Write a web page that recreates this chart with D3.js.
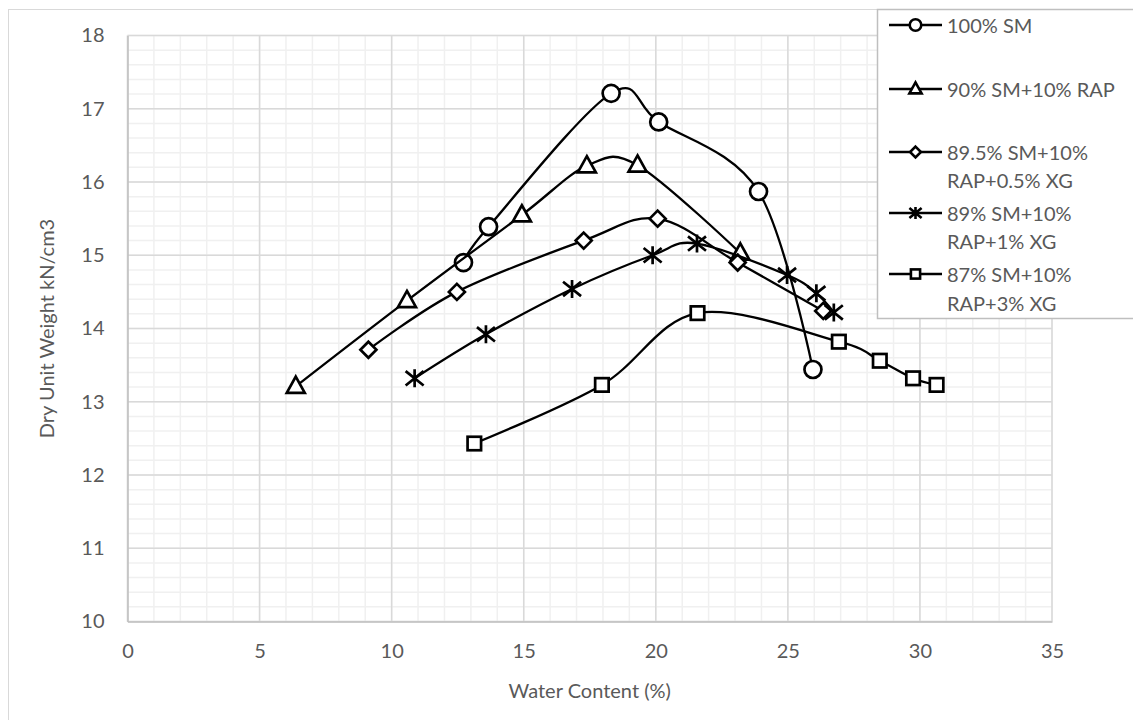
<!DOCTYPE html>
<html>
<head>
<meta charset="utf-8">
<script src="https://cdn.jsdelivr.net/npm/d3@7"></script>
<style>
  html, body { margin: 0; padding: 0; background: #fff; }
  svg { display: block; }
  text { font-family: Lato, "Open Sans", sans-serif; fill: #595959; }
</style>
</head>
<body>
<svg id="chart" width="1133" height="720"></svg>
<script>
// Compaction curves: water content (%) vs dry unit weight
const seriesNames = [
  ["100% SM"],
  ["90% SM+10% RAP"],
  ["89.5% SM+10%", "RAP+0.5% XG"],
  ["89% SM+10%", "RAP+1% XG"],
  ["87% SM+10%", "RAP+3% XG"]
];
const markerTypes = ["circle", "triangle", "diamond", "star", "square"];

const smX = [12.72, 13.67, 18.31, 20.11, 23.89, 25.95];
const smY = [14.90, 15.39, 17.21, 16.82, 15.87, 13.44];

const rapX = [6.37, 10.58, 14.93, 17.39, 19.31, 23.20];
const rapY = [13.21, 14.38, 15.55, 16.22, 16.23, 15.03];

const xg05X = [9.12, 12.47, 17.27, 20.07, 23.10, 26.34];
const xg05Y = [13.71, 14.50, 15.20, 15.50, 14.90, 14.24];

const xg1X = [10.87, 13.57, 16.83, 19.88, 21.56, 24.97, 26.08, 26.74];
const xg1Y = [13.32, 13.92, 14.54, 15.00, 15.16, 14.73, 14.48, 14.22];

const xg3X = [13.13, 17.96, 21.58, 26.93, 28.48, 29.74, 30.63];
const xg3Y = [12.43, 13.23, 14.21, 13.82, 13.56, 13.32, 13.23];

const xTicks = [0, 5, 10, 15, 20, 25, 30, 35];
const yTicks = [10, 11, 12, 13, 14, 15, 16, 17, 18];
const xTitle = "Water Content (%)";
const yTitle = "Dry Unit Weight kN/cm3";

const seriesX = [smX, rapX, xg05X, xg1X, xg3X];
const seriesY = [smY, rapY, xg05Y, xg1Y, xg3Y];

const svg = d3.select("#chart");
const plot = { left: 127.5, right: 1052, top: 35.5, bottom: 621.5 };
const fontSize = "20px";

const x = d3.scaleLinear().domain([0, 35]).range([plot.left, plot.right]);
const y = d3.scaleLinear().domain([10, 18]).range([plot.bottom, plot.top]);

// chart area frame
svg.append("rect")
  .attr("x", 8.5).attr("y", 9.5).attr("width", 1140).attr("height", 730)
  .attr("fill", "#fff").attr("stroke", "#d9d9d9").attr("stroke-width", 1);

// minor gridlines
const g = svg.append("g");
g.selectAll(".vx").data(d3.range(0, 36, 1)).join("line")
  .attr("x1", d => x(d)).attr("x2", d => x(d))
  .attr("y1", plot.top).attr("y2", plot.bottom)
  .attr("stroke", "#f0f0f0").attr("stroke-width", 1.5);
g.selectAll(".hy").data(d3.range(0, 41).map(i => 10 + i * 0.2)).join("line")
  .attr("y1", d => y(d)).attr("y2", d => y(d))
  .attr("x1", plot.left).attr("x2", plot.right)
  .attr("stroke", "#f0f0f0").attr("stroke-width", 1.5);

// major gridlines
g.selectAll(".mx").data(xTicks).join("line")
  .attr("x1", d => x(d)).attr("x2", d => x(d))
  .attr("y1", plot.top).attr("y2", plot.bottom)
  .attr("stroke", "#d9d9d9").attr("stroke-width", 1.5);
g.selectAll(".my").data(yTicks).join("line")
  .attr("y1", d => y(d)).attr("y2", d => y(d))
  .attr("x1", plot.left).attr("x2", plot.right)
  .attr("stroke", "#d9d9d9").attr("stroke-width", 1.5);

// axes
const xAxis = d3.axisBottom(x).tickValues(xTicks).tickSize(0).tickPadding(22);
const yAxis = d3.axisLeft(y).tickValues(yTicks).tickSize(0).tickPadding(23);

const gx = svg.append("g").attr("transform", `translate(0,${plot.bottom})`).call(xAxis);
const gy = svg.append("g").attr("transform", `translate(${plot.left},0)`).call(yAxis);
[gx, gy].forEach(a => {
  a.select(".domain").attr("stroke", "#bfbfbf").attr("stroke-width", 1.5);
  a.selectAll("text").style("font-size", fontSize).style("font-family", "Lato, 'Open Sans', sans-serif").attr("fill", "#595959");
});

svg.append("text")
  .attr("x", (plot.left + plot.right) / 2).attr("y", 690)
  .attr("text-anchor", "middle").attr("dominant-baseline", "central")
  .style("font-size", fontSize).text(xTitle);

svg.append("text")
  .attr("transform", `translate(46,${(plot.top + plot.bottom) / 2}) rotate(-90)`)
  .attr("text-anchor", "middle").attr("dominant-baseline", "central")
  .style("font-size", fontSize).text(yTitle);

// marker shapes
function drawMarker(sel, type, s, sw) {
  const st = { fill: "#fff", stroke: "#000", "stroke-width": sw };
  let m;
  if (type === "circle") {
    m = sel.append("circle").attr("r", s * 0.5);
  } else if (type === "triangle") {
    const h = s * 0.9, w = s;
    m = sel.append("path").attr("d", `M0,${-h * 0.6}L${w / 2},${h * 0.4}L${-w / 2},${h * 0.4}Z`);
  } else if (type === "diamond") {
    const r = s * 0.5;
    m = sel.append("path").attr("d", `M0,${-r}L${r},0L0,${r}L${-r},0Z`);
  } else if (type === "square") {
    const r = s * 0.45;
    m = sel.append("rect").attr("x", -r).attr("y", -r).attr("width", 2 * r).attr("height", 2 * r);
  } else if (type === "star") {
    const r = s * 0.5;
    m = sel.append("path").attr("d",
      `M${-r},${-r * 0.8}L${r},${r * 0.8}M${r},${-r * 0.8}L${-r},${r * 0.8}M0,${-r}L0,${r}`);
    st.fill = "none";
  }
  Object.entries(st).forEach(([k, v]) => m.attr(k, v));
}

const line = d3.line().x(d => x(d[0])).y(d => y(d[1])).curve(d3.curveCardinal.tension(0));
const markerSize = { circle: 17, triangle: 18, diamond: 16, star: 18, square: 15 };

seriesX.forEach((xs, i) => {
  const pts = xs.map((v, j) => [v, seriesY[i][j]]);
  const sg = svg.append("g");
  sg.append("path").datum(pts).attr("d", line)
    .attr("fill", "none").attr("stroke", "#000").attr("stroke-width", 2.3);
  sg.selectAll("g.pt").data(pts).join("g")
    .attr("transform", d => `translate(${x(d[0])},${y(d[1])})`)
    .each(function () { drawMarker(d3.select(this), markerTypes[i], markerSize[markerTypes[i]], 2.7); });
});

// legend
const legend = svg.append("g");
legend.append("rect")
  .attr("x", 877.5).attr("y", 9.5).attr("width", 300).attr("height", 309)
  .attr("fill", "#fff").attr("stroke", "#bfbfbf").attr("stroke-width", 1.5);
const legendRows = [[25], [89], [152, 180], [213, 241], [274, 303]];
seriesNames.forEach((lines, i) => {
  const cy = legendRows[i][0];
  legend.append("line").attr("x1", 889).attr("x2", 942).attr("y1", cy).attr("y2", cy)
    .attr("stroke", "#000").attr("stroke-width", 2.3);
  const mg = legend.append("g").attr("transform", `translate(915.5,${cy})`);
  drawMarker(mg, markerTypes[i], markerSize[markerTypes[i]] * 0.68, 2.6);
  lines.forEach((t, k) => {
    legend.append("text").attr("x", 947).attr("y", legendRows[i][k])
      .attr("dominant-baseline", "central").style("font-size", fontSize).text(t);
  });
});
</script>
</body>
</html>
